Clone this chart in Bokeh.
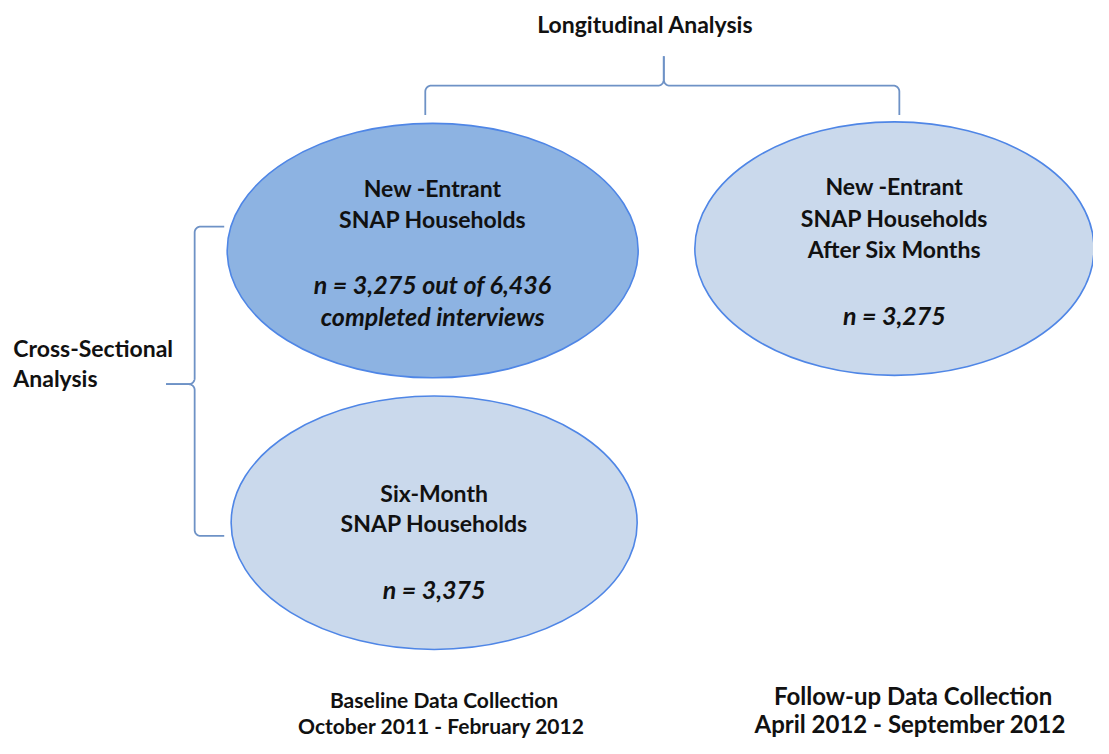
import numpy as np
from bokeh.plotting import figure
from bokeh.models import Range1d
from bokeh.core.properties import value
from bokeh.embed import file_html
from bokeh.resources import INLINE

# ---------------- data ----------------
node_titles = [
    ["New -Entrant", "SNAP Households"],
    ["New -Entrant", "SNAP Households", "After Six Months"],
    ["Six-Month", "SNAP Households"],
]
node_n = [3275, 3275, 3375]
completed_interviews = 6436
period_titles = ["Baseline Data Collection", "Follow-up Data Collection"]
period_ranges = ["October 2011 -  February 2012", "April 2012 -  September 2012"]
longitudinal_label = "Longitudinal  Analysis"
cross_label = ["Cross-Sectional", "Analysis"]

# ---------------- layout (reference pixel space 1109 x 754) ----------------
W, H = 1093, 738
RW, RH = 1109, 754
FONT = "Lato"
cx = [438.5, 907.0, 440.0]
cy = [255.5, 253.5, 533.5]
ew = [417, 405, 412]
eh = [260, 259, 259]
fills = ["#8DB3E2", "#CAD9EC", "#CAD9EC"]
edge = "#4F86E6"
brace_col = "#6E92C6"
title_y0 = [192, 190, 503]
title_step = [31, 32, 31]
n_y = [[290, 322], [321], [601]]
period_x = [450, 926]
period_y = [[714, 741], [710, 739]]
period_size = ["21px", "24px"]

p = figure(width=W, height=H, output_backend="svg", toolbar_location=None,
           x_range=Range1d(0, RW), y_range=Range1d(RH, 0),
           min_border=0, outline_line_color=None)
p.axis.visible = False
p.grid.visible = False
p.background_fill_color = "white"
p.border_fill_color = "white"

# ellipses
p.ellipse(x=cx, y=cy, width=ew, height=eh, fill_color=fills,
          line_color=edge, line_width=1.6)


def arc(xc, yc, r, a0, a1, n=12):
    t = np.linspace(np.radians(a0), np.radians(a1), n)
    return list(xc + r * np.cos(t)), list(yc + r * np.sin(t))

# top brace (longitudinal)
lx, rx = 431, 912
mid = 673
yb, yh, ytop, r = 117, 87, 57, 6
xs, ys = [lx], [yb]
ax, ay = arc(lx + r, yh + r, r, 180, 270)
xs += ax; ys += ay
ax, ay = arc(mid - r, yh - r, r, 90, 0)
xs += ax; ys += ay
xs += [mid]; ys += [ytop]
p.line(xs, ys, line_color=brace_col, line_width=1.8)
xs, ys = [mid], [ytop]
ax, ay = arc(mid + r, yh - r, r, 180, 90)
xs += ax; ys += ay
ax, ay = arc(rx - r, yh + r, r, 270, 360)
xs += ax; ys += ay
xs += [rx]; ys += [yb]
p.line(xs, ys, line_color=brace_col, line_width=1.8)

# left brace (cross-sectional)
bx, tipx = 197, 168
yt, ybm, ytip, hook = 231, 547, 392, 227
xs, ys = [hook], [yt]
ax, ay = arc(bx + r, yt + r, r, 270, 180)
xs += ax; ys += ay
ax, ay = arc(bx - r, ytip - r, r, 0, 90)
xs += ax; ys += ay
xs += [tipx]; ys += [ytip]
p.line(xs, ys, line_color=brace_col, line_width=1.8)
ax, ay = arc(bx - r, ytip + r, r, 270, 360)
xs = [tipx] + ax; ys = [ytip] + ay
ax, ay = arc(bx + r, ybm - r, r, 180, 90)
xs += ax; ys += ay
xs += [hook]; ys += [ybm]
p.line(xs, ys, line_color=brace_col, line_width=1.8)

# node texts
for i, lines in enumerate(node_titles):
    ys_ = [title_y0[i] + k * title_step[i] for k in range(len(lines))]
    p.text(x=[cx[i]] * len(lines), y=ys_, text=lines, text_font=value(FONT),
           text_font_style="bold", text_font_size="23px", text_color="#111111",
           text_align="center", text_baseline="middle")
    if i == 0:
        nl = [f"n = {node_n[i]:,} out of {completed_interviews:,}", "completed interviews"]
    else:
        nl = [f"n = {node_n[i]:,}"]
    p.text(x=[cx[i]] * len(nl), y=n_y[i], text=nl, text_font=value(FONT),
           text_font_style="bold italic", text_font_size="25px", text_color="#111111",
           text_align="center", text_baseline="middle")

# analysis labels
p.text(x=[657], y=[24], text=[longitudinal_label], text_font=value(FONT),
       text_font_style="bold", text_font_size="23px", text_color="#111111",
       text_align="center", text_baseline="middle")
p.text(x=[13, 13], y=[355, 386], text=cross_label, text_font=value(FONT),
       text_font_style="bold", text_font_size="23px", text_color="#111111",
       text_align="left", text_baseline="middle")

# period labels
for i in range(2):
    p.text(x=[period_x[i]] * 2, y=period_y[i], text=[period_titles[i], period_ranges[i]],
           text_font=value(FONT), text_font_style="bold", text_font_size=period_size[i],
           text_color="#111111", text_align="center", text_baseline="middle")

open("out.html", "w").write(file_html(p, INLINE))
